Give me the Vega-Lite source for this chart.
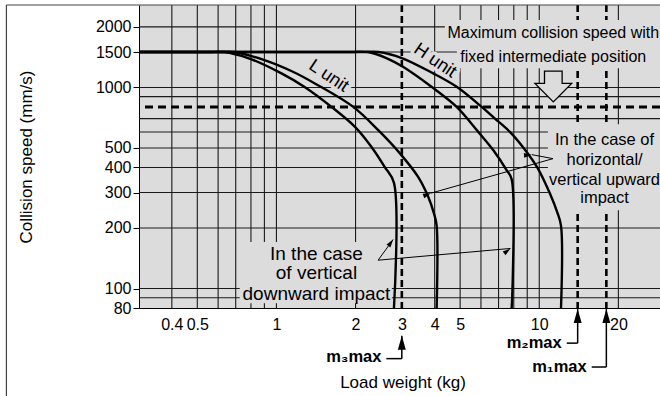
{
  "$schema": "https://vega.github.io/schema/vega-lite/v6.json",
  "width": 521,
  "height": 303,
  "autosize": {"type": "none"},
  "padding": {"left": 139, "top": 5, "right": 0, "bottom": 88},
  "background": "white",
  "config": {
    "font": "Liberation Sans",
    "view": {"fill": "#dcdcdc", "stroke": null},
    "axis": {"grid": false, "labelColor": "black", "titleColor": "black", "domainColor": "black", "tickColor": "black", "labelFont": "Liberation Sans", "titleFont": "Liberation Sans"}
  },
  "datasets": {
    "hgrid": [{"v": 90}, {"v": 100}, {"v": 200}, {"v": 300}, {"v": 400}, {"v": 500}, {"v": 600}, {"v": 700}, {"v": 900}, {"v": 1000}, {"v": 1500}, {"v": 2000}],
    "vgrid": [{"v": 0.4}, {"v": 0.5}, {"v": 0.6}, {"v": 0.7}, {"v": 0.8}, {"v": 0.9}, {"v": 1}, {"v": 2}, {"v": 4}, {"v": 5}, {"v": 6}, {"v": 7}, {"v": 8}, {"v": 9}, {"v": 10}, {"v": 20}],
    "hdash": [{"v": 800}],
    "vdash": [{"v": 3}, {"v": 14}, {"v": 18}],
    "boxes": [
      {"x1": 4.375, "x2": 30, "y1": 2162, "y2": 1642},
      {"x1": 4.86, "x2": 30, "y1": 1642, "y2": 1247},
      {"x1": 0.725, "x2": 2.75, "y1": 170.5, "y2": 84.5},
      {"x1": 10.79, "x2": 30, "y1": 656.8, "y2": 245.2}
    ],
    "frame": [
      {"x1": 0.0939, "x2": 0.0939, "y1": 2570, "y2": 20},
      {"x1": 0.0939, "x2": 30, "y1": 2570, "y2": 2570}
    ],
    "curves": [
      {"s": "Ld", "o": 1, "kg": 0.3, "v": 1500},
      {"s": "Ld", "o": 2, "kg": 0.55, "v": 1500},
      {"s": "Ld", "o": 3, "kg": 0.63, "v": 1500},
      {"s": "Ld", "o": 4, "kg": 0.78, "v": 1400},
      {"s": "Ld", "o": 5, "kg": 1.045, "v": 1174},
      {"s": "Ld", "o": 6, "kg": 1.28, "v": 1005},
      {"s": "Ld", "o": 7, "kg": 1.62, "v": 800},
      {"s": "Ld", "o": 8, "kg": 1.99, "v": 637},
      {"s": "Ld", "o": 9, "kg": 2.3, "v": 506},
      {"s": "Ld", "o": 10, "kg": 2.58, "v": 403},
      {"s": "Ld", "o": 11, "kg": 2.8, "v": 335},
      {"s": "Ld", "o": 12, "kg": 2.8, "v": 80},
      {"s": "Lu", "o": 1, "kg": 0.3, "v": 1500},
      {"s": "Lu", "o": 2, "kg": 0.6, "v": 1500},
      {"s": "Lu", "o": 3, "kg": 0.69, "v": 1500},
      {"s": "Lu", "o": 4, "kg": 0.9, "v": 1367},
      {"s": "Lu", "o": 5, "kg": 1.15, "v": 1200},
      {"s": "Lu", "o": 6, "kg": 1.4, "v": 1047},
      {"s": "Lu", "o": 7, "kg": 1.96, "v": 800},
      {"s": "Lu", "o": 8, "kg": 2.44, "v": 613},
      {"s": "Lu", "o": 9, "kg": 2.95, "v": 470},
      {"s": "Lu", "o": 10, "kg": 3.46, "v": 359},
      {"s": "Lu", "o": 11, "kg": 3.78, "v": 286},
      {"s": "Lu", "o": 12, "kg": 3.98, "v": 235},
      {"s": "Lu", "o": 13, "kg": 4.07, "v": 205},
      {"s": "Lu", "o": 14, "kg": 4.07, "v": 80},
      {"s": "Hd", "o": 1, "kg": 0.3, "v": 1500},
      {"s": "Hd", "o": 2, "kg": 1.9, "v": 1500},
      {"s": "Hd", "o": 3, "kg": 2.22, "v": 1500},
      {"s": "Hd", "o": 4, "kg": 2.62, "v": 1400},
      {"s": "Hd", "o": 5, "kg": 3.03, "v": 1266},
      {"s": "Hd", "o": 6, "kg": 3.89, "v": 1007},
      {"s": "Hd", "o": 7, "kg": 4.85, "v": 800},
      {"s": "Hd", "o": 8, "kg": 5.86, "v": 601},
      {"s": "Hd", "o": 9, "kg": 6.68, "v": 488},
      {"s": "Hd", "o": 10, "kg": 7.51, "v": 388},
      {"s": "Hd", "o": 11, "kg": 7.85, "v": 350},
      {"s": "Hd", "o": 12, "kg": 7.85, "v": 80},
      {"s": "Hu", "o": 1, "kg": 0.3, "v": 1500},
      {"s": "Hu", "o": 2, "kg": 2.1, "v": 1500},
      {"s": "Hu", "o": 3, "kg": 2.45, "v": 1500},
      {"s": "Hu", "o": 4, "kg": 3.0, "v": 1400},
      {"s": "Hu", "o": 5, "kg": 3.95, "v": 1174},
      {"s": "Hu", "o": 6, "kg": 4.85, "v": 1007},
      {"s": "Hu", "o": 7, "kg": 6.04, "v": 800},
      {"s": "Hu", "o": 8, "kg": 6.78, "v": 700},
      {"s": "Hu", "o": 9, "kg": 7.73, "v": 601},
      {"s": "Hu", "o": 10, "kg": 8.75, "v": 497},
      {"s": "Hu", "o": 11, "kg": 9.85, "v": 398},
      {"s": "Hu", "o": 12, "kg": 11.0, "v": 295},
      {"s": "Hu", "o": 13, "kg": 11.7, "v": 240},
      {"s": "Hu", "o": 14, "kg": 12.1, "v": 205},
      {"s": "Hu", "o": 15, "kg": 12.1, "v": 80}
    ],
    "units": [
      {"t": "L unit", "x": 1.58, "y": 1138},
      {"t": "H unit", "x": 4.01, "y": 1356}
    ],
    "ptr": [
      {"id": "A", "x1": 2.437, "y1": 138.3, "x2": 2.78, "y2": 175.3},
      {"id": "B", "x1": 2.437, "y1": 138.3, "x2": 7.77, "y2": 158.2},
      {"id": "C", "x1": 11.28, "y1": 442.4, "x2": 3.87, "y2": 298},
      {"id": "D", "x1": 11.28, "y1": 442.4, "x2": 9.38, "y2": 463}
    ],
    "marr": [
      {"x1": 3, "y1": 58.2, "x2": 3, "y2": 44.8},
      {"x1": 2.62, "y1": 44.8, "x2": 3, "y2": 44.8},
      {"x1": 14, "y1": 79, "x2": 14, "y2": 53.5},
      {"x1": 12.72, "y1": 53.5, "x2": 14, "y2": 53.5},
      {"x1": 18, "y1": 79, "x2": 18, "y2": 40.7},
      {"x1": 15.83, "y1": 40.7, "x2": 18, "y2": 40.7}
    ],
    "mhead": [{"x": 3, "y": 58.2}, {"x": 14, "y": 79}, {"x": 18, "y": 79}],
    "mlab": [
      {"t": "m₃max", "x": 2.51, "y": 45.7},
      {"t": "m₂max", "x": 12.17, "y": 53.7},
      {"t": "m₁max", "x": 15.15, "y": 40.7}
    ],
    "blk": [{"x": 11.31, "y": 1011}],
    "notes": [
      {"g": "max", "t": "Maximum collision speed with", "x": 11.31, "y": 1857},
      {"g": "max", "t": "fixed intermediate position", "x": 11.31, "y": 1420},
      {"g": "down", "t": "In the case", "x": 1.42, "y": 149.3},
      {"g": "down", "t": "of vertical", "x": 1.42, "y": 118.8},
      {"g": "down", "t": "downward impact", "x": 1.42, "y": 94.4},
      {"g": "horiz", "t": "In the case of", "x": 17.72, "y": 547},
      {"g": "horiz", "t": "horizontal/", "x": 17.72, "y": 434.8},
      {"g": "horiz", "t": "vertical upward", "x": 17.72, "y": 345.8},
      {"g": "horiz", "t": "impact", "x": 17.72, "y": 280.4}
    ]
  },
  "layer": [
    {
      "data": {"name": "hgrid"},
      "mark": {"type": "rule", "color": "#1a1a1a", "strokeWidth": 1.1},
      "encoding": {
        "y": {"field": "v", "type": "quantitative", "scale": {"type": "log", "domain": [80, 2570], "nice": false}}
      }
    },
    {
      "data": {"name": "vgrid"},
      "mark": {"type": "rule", "color": "#1a1a1a", "strokeWidth": 1.1},
      "encoding": {
        "x": {"field": "v", "type": "quantitative", "scale": {"type": "log", "domain": [0.3, 28.8], "nice": false}}
      }
    },
    {
      "data": {"name": "hdash"},
      "mark": {"type": "rule", "color": "black", "strokeWidth": 3, "strokeDash": [8, 5]},
      "encoding": {
        "y": {"field": "v", "type": "quantitative", "scale": {"type": "log", "domain": [80, 2570], "nice": false}}
      }
    },
    {
      "data": {"name": "vdash"},
      "mark": {"type": "rule", "color": "black", "strokeWidth": 2.6, "strokeDash": [7, 4]},
      "encoding": {
        "x": {"field": "v", "type": "quantitative", "scale": {"type": "log", "domain": [0.3, 28.8], "nice": false}}
      }
    },
    {
      "data": {"name": "boxes"},
      "mark": {"type": "rect", "color": "#dcdcdc", "clip": false},
      "encoding": {
        "x": {"field": "x1", "type": "quantitative", "scale": {"type": "log", "domain": [0.3, 28.8], "nice": false}},
        "x2": {"field": "x2"},
        "y": {"field": "y1", "type": "quantitative", "scale": {"type": "log", "domain": [80, 2570], "nice": false}},
        "y2": {"field": "y2"}
      }
    },
    {
      "data": {"name": "frame"},
      "mark": {"type": "rule", "color": "#444", "strokeWidth": 1.2, "clip": false},
      "encoding": {
        "x": {"field": "x1", "type": "quantitative", "scale": {"type": "log", "domain": [0.3, 28.8], "nice": false}},
        "x2": {"field": "x2"},
        "y": {"field": "y1", "type": "quantitative", "scale": {"type": "log", "domain": [80, 2570], "nice": false}},
        "y2": {"field": "y2"}
      }
    },
    {
      "data": {"name": "units"},
      "mark": {"type": "text", "font": "Liberation Sans", "fontSize": 18, "angle": 34, "align": "center", "baseline": "middle", "fill": "#dcdcdc", "stroke": "#dcdcdc", "strokeWidth": 7, "strokeJoin": "round"},
      "encoding": {
        "x": {"field": "x", "type": "quantitative", "scale": {"type": "log", "domain": [0.3, 28.8], "nice": false}},
        "y": {"field": "y", "type": "quantitative", "scale": {"type": "log", "domain": [80, 2570], "nice": false}},
        "text": {"field": "t"}
      }
    },
    {
      "data": {"name": "curves"},
      "mark": {"type": "line", "color": "black", "strokeWidth": 2.4, "interpolate": "catmull-rom", "strokeJoin": "round", "clip": false},
      "encoding": {
        "x": {"field": "kg", "type": "quantitative", "scale": {"type": "log", "domain": [0.3, 28.8], "nice": false},
          "axis": {"orient": "bottom", "title": "Load weight (kg)", "values": [0.4, 0.5, 1, 2, 3, 4, 5, 10, 20], "format": "~g",
            "ticks": false, "labelPadding": 8, "labelFontSize": 16, "labelOverlap": false, "labelFlush": false,
            "titleFontSize": 17, "titleFontWeight": "normal", "titleX": 263.5, "titleY": 79, "titleAlign": "center", "titleBaseline": "alphabetic"}},
        "y": {"field": "v", "type": "quantitative", "scale": {"type": "log", "domain": [80, 2570], "nice": false},
          "axis": {"orient": "left", "title": "Collision speed (mm/s)", "values": [80, 100, 200, 300, 400, 500, 1000, 1500, 2000], "format": "d",
            "ticks": true, "tickSize": 6, "labelPadding": 2, "labelFontSize": 16, "labelOverlap": false, "labelFlush": false,
            "titleFontSize": 17, "titleFontWeight": "normal", "titleAngle": -90, "titleX": -113, "titleY": 151.5, "titleAlign": "center", "titleBaseline": "middle"}},
        "detail": {"field": "s"},
        "order": {"field": "o", "type": "quantitative"}
      }
    },
    {
      "data": {"name": "units"},
      "mark": {"type": "text", "font": "Liberation Sans", "fontSize": 18, "angle": 34, "align": "center", "baseline": "middle", "color": "black"},
      "encoding": {
        "x": {"field": "x", "type": "quantitative", "scale": {"type": "log", "domain": [0.3, 28.8], "nice": false}},
        "y": {"field": "y", "type": "quantitative", "scale": {"type": "log", "domain": [80, 2570], "nice": false}},
        "text": {"field": "t"}
      }
    },
    {
      "data": {"name": "ptr"},
      "mark": {"type": "rule", "color": "black", "strokeWidth": 1},
      "encoding": {
        "x": {"field": "x1", "type": "quantitative", "scale": {"type": "log", "domain": [0.3, 28.8], "nice": false}},
        "x2": {"field": "x2"},
        "y": {"field": "y1", "type": "quantitative", "scale": {"type": "log", "domain": [80, 2570], "nice": false}},
        "y2": {"field": "y2"}
      }
    },
    {
      "data": {"name": "ptr"},
      "mark": {"type": "point", "shape": "M0,0L0.6,2L-0.6,2Z", "size": 64, "filled": true, "color": "black", "opacity": 1},
      "encoding": {
        "x": {"field": "x2", "type": "quantitative", "scale": {"type": "log", "domain": [0.3, 28.8], "nice": false}},
        "y": {"field": "y2", "type": "quantitative", "scale": {"type": "log", "domain": [80, 2570], "nice": false}},
        "angle": {"field": "id", "type": "nominal", "scale": {"domain": ["A", "B", "C", "D"], "range": [36, 85, 254, 281]}, "legend": null}
      }
    },
    {
      "data": {"name": "marr"},
      "mark": {"type": "rule", "color": "black", "strokeWidth": 1.5, "clip": false},
      "encoding": {
        "x": {"field": "x1", "type": "quantitative", "scale": {"type": "log", "domain": [0.3, 28.8], "nice": false}},
        "x2": {"field": "x2"},
        "y": {"field": "y1", "type": "quantitative", "scale": {"type": "log", "domain": [80, 2570], "nice": false}},
        "y2": {"field": "y2"}
      }
    },
    {
      "data": {"name": "mhead"},
      "mark": {"type": "point", "shape": "M0,0L0.57,2L-0.57,2Z", "size": 196, "filled": true, "color": "black", "opacity": 1, "clip": false},
      "encoding": {
        "x": {"field": "x", "type": "quantitative", "scale": {"type": "log", "domain": [0.3, 28.8], "nice": false}},
        "y": {"field": "y", "type": "quantitative", "scale": {"type": "log", "domain": [80, 2570], "nice": false}}
      }
    },
    {
      "data": {"name": "blk"},
      "mark": {"type": "point", "shape": "M-0.48,-0.84L0.48,-0.84L0.48,-0.17L1,-0.17L0,0.84L-1,-0.17L-0.48,-0.17Z", "size": 1347, "filled": true, "fill": "#dcdcdc", "stroke": "black", "strokeWidth": 1.3, "opacity": 1},
      "encoding": {
        "x": {"field": "x", "type": "quantitative", "scale": {"type": "log", "domain": [0.3, 28.8], "nice": false}},
        "y": {"field": "y", "type": "quantitative", "scale": {"type": "log", "domain": [80, 2570], "nice": false}}
      }
    },
    {
      "data": {"name": "notes"},
      "transform": [{"filter": "datum.g == 'max'"}],
      "mark": {"type": "text", "font": "Liberation Sans", "fontSize": 16, "align": "center", "baseline": "middle", "color": "black", "clip": false},
      "encoding": {
        "x": {"field": "x", "type": "quantitative", "scale": {"type": "log", "domain": [0.3, 28.8], "nice": false}},
        "y": {"field": "y", "type": "quantitative", "scale": {"type": "log", "domain": [80, 2570], "nice": false}},
        "text": {"field": "t"}
      }
    },
    {
      "data": {"name": "notes"},
      "transform": [{"filter": "datum.g == 'down'"}],
      "mark": {"type": "text", "font": "Liberation Sans", "fontSize": 19, "align": "center", "baseline": "middle", "color": "black", "clip": false},
      "encoding": {
        "x": {"field": "x", "type": "quantitative", "scale": {"type": "log", "domain": [0.3, 28.8], "nice": false}},
        "y": {"field": "y", "type": "quantitative", "scale": {"type": "log", "domain": [80, 2570], "nice": false}},
        "text": {"field": "t"}
      }
    },
    {
      "data": {"name": "notes"},
      "transform": [{"filter": "datum.g == 'horiz'"}],
      "mark": {"type": "text", "font": "Liberation Sans", "fontSize": 16.5, "align": "center", "baseline": "middle", "color": "black", "clip": false},
      "encoding": {
        "x": {"field": "x", "type": "quantitative", "scale": {"type": "log", "domain": [0.3, 28.8], "nice": false}},
        "y": {"field": "y", "type": "quantitative", "scale": {"type": "log", "domain": [80, 2570], "nice": false}},
        "text": {"field": "t"}
      }
    },
    {
      "data": {"name": "mlab"},
      "mark": {"type": "text", "font": "Liberation Sans", "fontSize": 16.5, "fontWeight": "bold", "align": "right", "baseline": "middle", "color": "black", "clip": false},
      "encoding": {
        "x": {"field": "x", "type": "quantitative", "scale": {"type": "log", "domain": [0.3, 28.8], "nice": false}},
        "y": {"field": "y", "type": "quantitative", "scale": {"type": "log", "domain": [80, 2570], "nice": false}},
        "text": {"field": "t"}
      }
    }
  ]
}
